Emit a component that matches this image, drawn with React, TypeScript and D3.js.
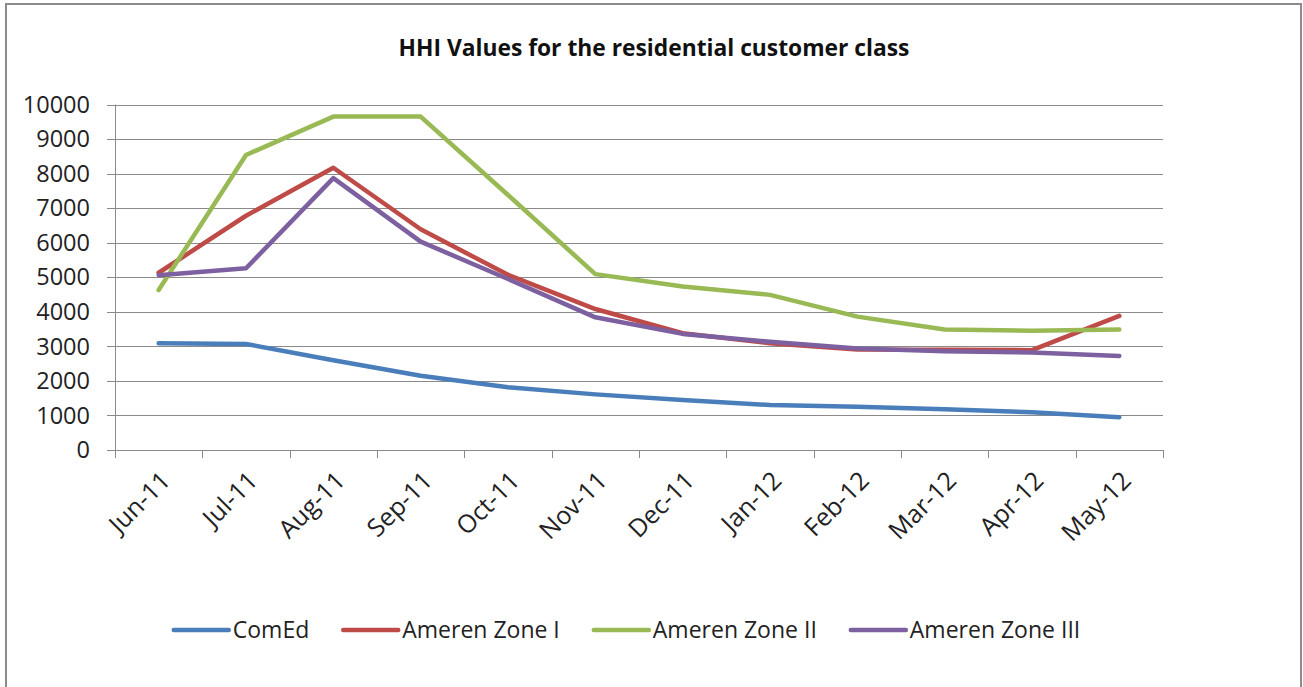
import { useEffect, useRef } from 'react';
import * as d3 from 'd3';

const months = ['Jun-11', 'Jul-11', 'Aug-11', 'Sep-11', 'Oct-11', 'Nov-11', 'Dec-11', 'Jan-12', 'Feb-12', 'Mar-12', 'Apr-12', 'May-12'];

const comEd = [3090, 3070, 2600, 2150, 1815, 1610, 1450, 1300, 1255, 1180, 1090, 950];
const amerenZone1 = [5130, 6780, 8170, 6390, 5070, 4080, 3380, 3090, 2910, 2900, 2890, 3880];
const amerenZone2 = [4630, 8540, 9650, 9650, 7380, 5090, 4730, 4490, 3860, 3490, 3450, 3490];
const amerenZone3 = [5060, 5260, 7870, 6030, 4950, 3840, 3360, 3130, 2940, 2860, 2820, 2720];

const seriesNames = ['ComEd', 'Ameren Zone I', 'Ameren Zone II', 'Ameren Zone III'];
const seriesColors = ['#4a7ebb', '#be4b48', '#98b954', '#7d60a0'];
const yTicks = [0, 1000, 2000, 3000, 4000, 5000, 6000, 7000, 8000, 9000, 10000];

const title = 'HHI Values for the residential customer class';
const FONT = '"Open Sans", "DejaVu Sans", sans-serif';

export default function App() {
  const svgRef = useRef<SVGSVGElement | null>(null);

  useEffect(() => {
    if (!svgRef.current) return;
    const svg = d3.select(svgRef.current);
    svg.selectAll('*').remove();

    const W = 1303;
    const H = 687;
    const plot = { left: 115, right: 1163, top: 104.5, bottom: 450 };
    const values = [comEd, amerenZone1, amerenZone2, amerenZone3];

    svg.attr('width', W).attr('height', H);

    svg.append('rect').attr('width', W).attr('height', H).attr('fill', '#fff');

    // outer chart frame
    svg.append('rect')
      .attr('x', 6).attr('y', 4)
      .attr('width', 1295).attr('height', 720)
      .attr('fill', 'none')
      .attr('stroke', '#8c8c8c')
      .attr('stroke-width', 2);

    const x = d3.scaleBand<string>()
      .domain(months)
      .range([plot.left, plot.right]);

    const y = d3.scaleLinear()
      .domain([0, 10000])
      .range([plot.bottom, plot.top]);

    // gridlines
    svg.append('g')
      .selectAll('line')
      .data(yTicks)
      .join('line')
      .attr('x1', plot.left - 8)
      .attr('x2', plot.right)
      .attr('y1', (d) => Math.round(y(d)) + 0.5)
      .attr('y2', (d) => Math.round(y(d)) + 0.5)
      .attr('stroke', '#8a8a8a')
      .attr('stroke-width', 1);

    // y axis line
    svg.append('line')
      .attr('x1', plot.left + 0.5).attr('x2', plot.left + 0.5)
      .attr('y1', plot.top).attr('y2', plot.bottom + 8)
      .attr('stroke', '#8a8a8a');

    // x ticks at category boundaries
    const bounds = months.map((m) => x(m) as number).concat([plot.right]);
    svg.append('g')
      .selectAll('line')
      .data(bounds)
      .join('line')
      .attr('x1', (d) => Math.round(d) + 0.5)
      .attr('x2', (d) => Math.round(d) + 0.5)
      .attr('y1', plot.bottom)
      .attr('y2', plot.bottom + 8)
      .attr('stroke', '#8a8a8a');

    // y labels
    svg.append('g')
      .selectAll('text')
      .data(yTicks)
      .join('text')
      .attr('x', 90)
      .attr('y', (d) => y(d))
      .attr('dy', '0.35em')
      .attr('text-anchor', 'end')
      .attr('font-family', FONT)
      .attr('font-size', 23.5)
      .attr('fill', '#222')
      .text((d) => String(d));

    // x labels, rotated
    svg.append('g')
      .selectAll('text')
      .data(months)
      .join('text')
      .attr('transform', (d) => `translate(${(x(d) as number) + x.bandwidth() / 2 + 7},${plot.bottom + 26}) rotate(-45)`)
      .attr('text-anchor', 'end')
      .attr('dy', '0.35em')
      .attr('font-family', FONT)
      .attr('font-size', 25)
      .attr('fill', '#222')
      .text((d) => d);

    // series lines
    const line = d3.line<number>()
      .x((_, i) => (x(months[i]) as number) + x.bandwidth() / 2)
      .y((d) => y(d));

    values.forEach((vals, i) => {
      svg.append('path')
        .datum(vals)
        .attr('fill', 'none')
        .attr('stroke', seriesColors[i])
        .attr('stroke-width', 4.5)
        .attr('stroke-linejoin', 'round')
        .attr('stroke-linecap', 'round')
        .attr('d', line);
    });

    // title
    svg.append('text')
      .attr('x', 654)
      .attr('y', 56)
      .attr('text-anchor', 'middle')
      .attr('font-family', FONT)
      .attr('font-weight', 'bold')
      .attr('font-size', 22.8)
      .attr('fill', '#111')
      .text(title);

    // legend
    const legend = svg.append('g');
    const sample = 55;
    const gap = 4;
    const spacing = 34;
    let cursor = 0;
    seriesNames.forEach((name, i) => {
      const item = legend.append('g').attr('transform', `translate(${cursor},0)`);
      item.append('line')
        .attr('x1', 0).attr('x2', sample)
        .attr('y1', 0).attr('y2', 0)
        .attr('stroke', seriesColors[i])
        .attr('stroke-width', 4.5)
        .attr('stroke-linecap', 'round');
      const t = item.append('text')
        .attr('x', sample + gap)
        .attr('dy', '0.35em')
        .attr('font-family', FONT)
        .attr('font-size', 23)
        .attr('fill', '#222')
        .text(name);
      const w = (t.node() as SVGTextElement).getComputedTextLength();
      cursor += sample + gap + w + spacing;
    });
    const legendWidth = cursor - spacing;
    legend.attr('transform', `translate(${627 - legendWidth / 2},630)`);
  }, []);

  return (
    <svg
      ref={svgRef}
      style={{ position: 'absolute', left: 0, top: 0, display: 'block' }}
    />
  );
}
